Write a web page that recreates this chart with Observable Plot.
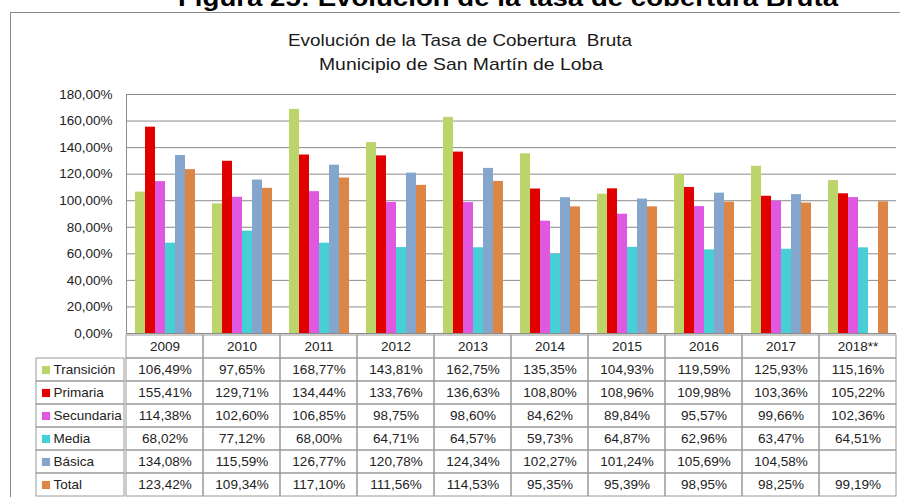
<!DOCTYPE html>
<html>
<head>
<meta charset="utf-8">
<script src="https://cdn.jsdelivr.net/npm/d3@7"></script>
<script src="https://cdn.jsdelivr.net/npm/@observablehq/plot@0.6"></script>
<style>
  html, body { margin: 0; padding: 0; background: #fff; overflow: hidden; }
  #wrap { position: relative; width: 900px; height: 497px; overflow: hidden; font-family: "Liberation Sans", Arial, sans-serif; }
  #frame { position: absolute; left: 10px; top: 12px; width: 900px; height: 500px; border-left: 1.5px solid #8a8a8a; border-top: 1.5px solid #8a8a8a; }
  .abs { position: absolute; }
</style>
</head>
<body>
<div id="wrap">
  <div id="frame"></div>
  <svg class="abs" style="left:0;top:0" width="900" height="90">
    <text x="508" y="6" text-anchor="middle" font-family="Liberation Sans" font-weight="bold" font-size="24" fill="#000" textLength="660" lengthAdjust="spacingAndGlyphs">Figura 25: Evolución de la tasa de cobertura Bruta</text>
    <text x="460" y="46" text-anchor="middle" font-family="Liberation Sans" font-size="17" fill="#1a1a1a" style="white-space:pre" textLength="344" lengthAdjust="spacingAndGlyphs">Evolución de la Tasa de Cobertura  Bruta</text>
    <text x="461" y="70" text-anchor="middle" font-family="Liberation Sans" font-size="17" fill="#1a1a1a" textLength="284" lengthAdjust="spacingAndGlyphs">Municipio de San Martín de Loba</text>
  </svg>
</div>
<script>
// ---- Data ----
const years = ["2009", "2010", "2011", "2012", "2013", "2014", "2015", "2016", "2017", "2018**"];
const series = ["Transición", "Primaria", "Secundaria", "Media", "Básica", "Total"];
const transicion = [106.49, 97.65, 168.77, 143.81, 162.75, 135.35, 104.93, 119.59, 125.93, 115.16];
const primaria   = [155.41, 129.71, 134.44, 133.76, 136.63, 108.80, 108.96, 109.98, 103.36, 105.22];
const secundaria = [114.38, 102.60, 106.85, 98.75, 98.60, 84.62, 89.84, 95.57, 99.66, 102.36];
const media      = [68.02, 77.12, 68.00, 64.71, 64.57, 59.73, 64.87, 62.96, 63.47, 64.51];
const basica     = [134.08, 115.59, 126.77, 120.78, 124.34, 102.27, 101.24, 105.69, 104.58, null];
const total      = [123.42, 109.34, 117.10, 111.56, 114.53, 95.35, 95.39, 98.95, 98.25, 99.19];
const yTicks = [0, 20, 40, 60, 80, 100, 120, 140, 160, 180];
const colors = ["#bcd56b", "#e00000", "#e058e0", "#47cfd6", "#84a5cc", "#dc8544"];

const valuesBySeries = [transicion, primaria, secundaria, media, basica, total];
const fmt = v => v.toFixed(2).replace(".", ",") + "%";

const rows = [];
series.forEach((s, si) => years.forEach((y, yi) => rows.push({ series: s, year: y, value: valuesBySeries[si][yi] })));

const wrap = document.getElementById("wrap");
const font = { fontFamily: "Liberation Sans, Arial, sans-serif", fontSize: "13.5px", background: "transparent" };

// ---- Bar chart ----
const chart = Plot.plot({
  width: 900, height: 340,
  marginLeft: 124, marginRight: 3, marginTop: 94, marginBottom: 7,
  style: { ...font, color: "#8c8c8c" },
  facet: { data: rows, x: "year" },
  fx: { domain: years, padding: 0, axis: null, label: null },
  x: { domain: series, axis: null, paddingInner: 0, paddingOuter: 0.79 },
  y: { domain: [0, 180], ticks: yTicks, tickFormat: fmt, tickSize: 0, tickPadding: 14, line: true, label: null },
  color: { domain: series, range: colors },
  marks: [
    Plot.ruleY(yTicks, { stroke: "#8c8c8c" }),
    Plot.barY(rows, { x: "series", y: "value", fill: "series" })
  ]
});
d3.select(chart).selectAll("text").attr("fill", "#222");
chart.classList.add("abs");
chart.style.left = "0px"; chart.style.top = "0px";
wrap.appendChild(chart);

// ---- Data table ----
const tableRows = ["", ...series];
const cells = [];
tableRows.forEach((r, ri) => years.forEach((y, yi) => {
  let text = y;
  if (ri > 0) { const v = valuesBySeries[ri - 1][yi]; text = v == null ? "" : fmt(v); }
  cells.push({ row: r, year: y, text });
}));

const table = Plot.plot({
  width: 900, height: 164,
  marginLeft: 124, marginRight: 3, marginTop: 0, marginBottom: 0,
  style: { ...font, color: "#222" },
  x: { domain: years, padding: 0, axis: null },
  y: { domain: tableRows, padding: 0, axis: null },
  marks: [
    Plot.cell(cells, { x: "year", y: "row", fill: "none", stroke: "#9a9a9a", inset: 0 }),
    Plot.text(cells, { x: "year", y: "row", text: "text", fill: "#222" })
  ]
});
table.classList.add("abs");
table.style.left = "0px"; table.style.top = "333px";
wrap.appendChild(table);

// ---- Legend column ----
const legendRows = series.map(s => ({ row: s }));
const legend = Plot.plot({
  width: 90, height: 164,
  marginLeft: 1, marginRight: 1, marginTop: 0, marginBottom: 0,
  style: { ...font, color: "#222" },
  y: { domain: tableRows, padding: 0, axis: null },
  color: { domain: series, range: colors },
  marks: [
    Plot.cell(legendRows, { y: "row", fill: "none", stroke: "#9a9a9a", inset: 0 }),
    Plot.dot(legendRows, { y: "row", fill: "row", symbol: "square", r: 4.6, frameAnchor: "left", dx: 9.5 }),
    Plot.text(legendRows, { y: "row", text: "row", frameAnchor: "left", dx: 17, textAnchor: "start", fill: "#222" })
  ]
});
legend.classList.add("abs");
legend.style.left = "35px"; legend.style.top = "333px";
wrap.appendChild(legend);
</script>
</body>
</html>
